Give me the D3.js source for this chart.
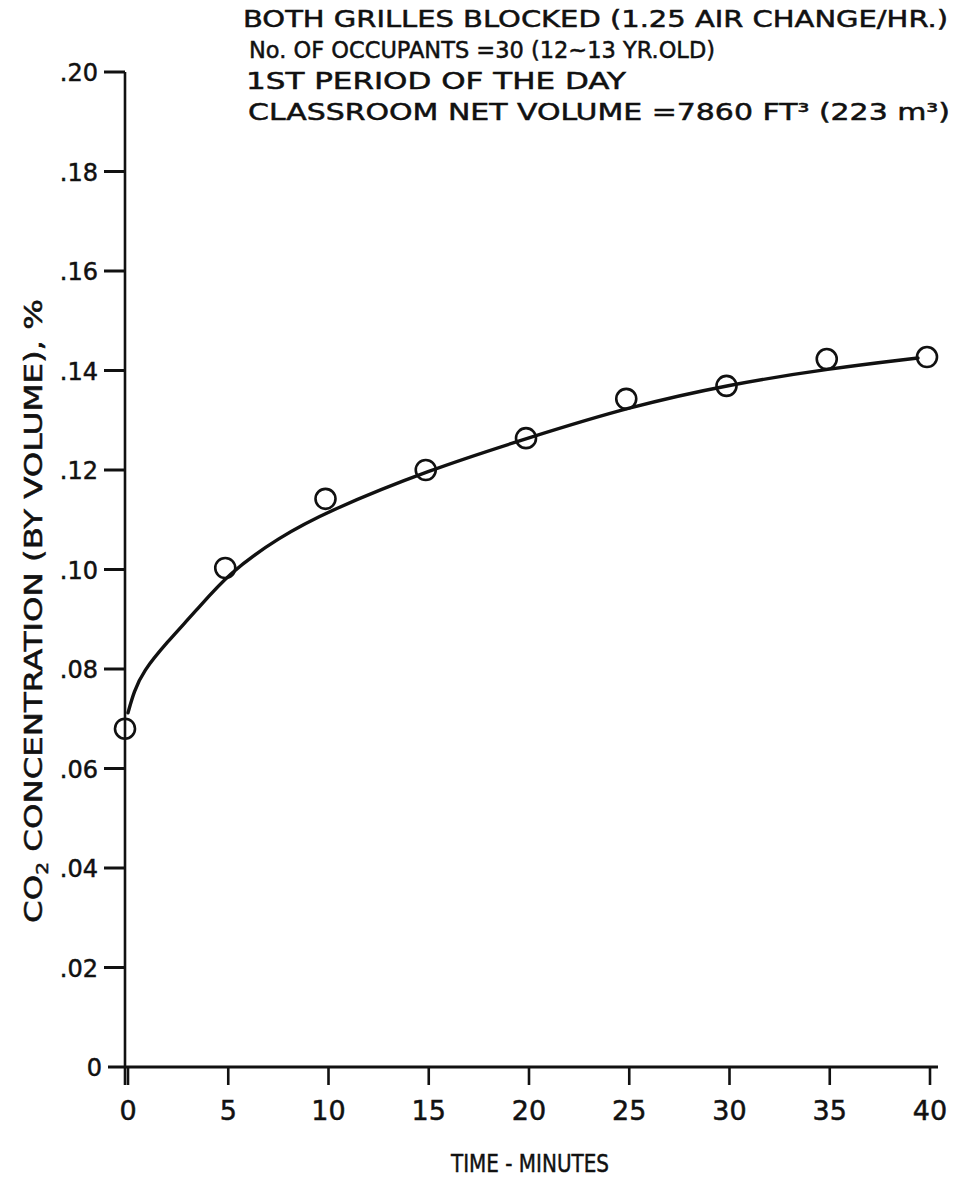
<!DOCTYPE html>
<html>
<head>
<meta charset="utf-8">
<script src="https://cdn.jsdelivr.net/npm/d3@7/dist/d3.min.js"></script>
<style>
  html, body { margin: 0; padding: 0; background: #fff; }
  svg { display: block; }
  text { font-family: "DejaVu Sans", "Liberation Sans", sans-serif; fill: #111; stroke: #111; stroke-width: 0.5; }
</style>
</head>
<body>
<script>
// Measured CO2 readings (time in minutes, concentration in % by volume)
const times = [0, 5, 10, 15, 20, 25, 30, 35, 40];
const co2 = [0.068, 0.1003, 0.1142, 0.120, 0.1264, 0.1343, 0.1369, 0.1423, 0.1427];

// Smoothed fitted curve through the readings
const curveTimes = [0, 0.3, 0.75, 1.9, 3.4, 5, 7.5, 10, 15, 20, 25, 30, 35, 39.4];
const curveCo2 = [0.0712, 0.0755, 0.0795, 0.0852, 0.0917, 0.0992, 0.1064, 0.1118, 0.1200, 0.1265, 0.1327, 0.1372, 0.1404, 0.1425];

// Axis ticks
const xTicks = [0, 5, 10, 15, 20, 25, 30, 35, 40];
const yTicks = [0, 0.02, 0.04, 0.06, 0.08, 0.10, 0.12, 0.14, 0.16, 0.18, 0.20];
const yTickLabels = ["0", ".02", ".04", ".06", ".08", ".10", ".12", ".14", ".16", ".18", ".20"];

// Notes printed above the curve
const noteLines = [
  "BOTH GRILLES BLOCKED (1.25 AIR CHANGE/HR.)",
  "No. OF OCCUPANTS =30  (12~13 YR.OLD)",
  "1ST PERIOD OF THE DAY",
  "CLASSROOM NET VOLUME =7860 FT³ (223 m³)"
];

const W = 960, H = 1177;
const svg = d3.select("body").append("svg").attr("width", W).attr("height", H);

const x = d3.scaleLinear().domain([0, 40]).range([128, 930]);
const y = d3.scaleLinear().domain([0, 0.20]).range([1067, 72]);

// Y axis (the zero tick is formed by the x axis running past the origin)
const yAxis = svg.append("g").attr("transform", `translate(${x(0) - 3},0)`);
yAxis.append("line")
  .attr("x1", 0).attr("x2", 0)
  .attr("y1", y(0.20)).attr("y2", y(0) + 18)
  .attr("stroke", "#111").attr("stroke-width", 2.6);
yAxis.selectAll("line.tick").data(yTicks.filter(d => d !== 0)).join("line")
  .attr("class", "tick")
  .attr("x1", -21).attr("x2", 0)
  .attr("y1", d => y(d)).attr("y2", d => y(d))
  .attr("stroke", "#111").attr("stroke-width", 3);
yAxis.selectAll("text").data(yTicks).join("text")
  .attr("x", d => d === 0 ? -23 : -27)
  .attr("y", d => y(d) + 9)
  .attr("text-anchor", "end")
  .attr("font-size", 24)
  .text((d, i) => yTickLabels[i]);

// X axis
const xAxis = svg.append("g").attr("transform", `translate(0,${y(0)})`);
xAxis.append("line")
  .attr("x1", x(0) - 20).attr("x2", x(40) + 8)
  .attr("y1", 0).attr("y2", 0)
  .attr("stroke", "#111").attr("stroke-width", 3.2);
xAxis.selectAll("line.tick").data(xTicks).join("line")
  .attr("class", "tick")
  .attr("x1", d => x(d)).attr("x2", d => x(d))
  .attr("y1", 0).attr("y2", 18)
  .attr("stroke", "#111").attr("stroke-width", 2.6);
xAxis.selectAll("text").data(xTicks).join("text")
  .attr("x", d => x(d))
  .attr("y", 53)
  .attr("text-anchor", "middle")
  .attr("font-size", 27)
  .text(d => d);

// Axis titles
svg.append("text")
  .attr("x", 530).attr("y", 1172)
  .attr("text-anchor", "middle")
  .attr("font-size", 25)
  .attr("textLength", 158).attr("lengthAdjust", "spacingAndGlyphs")
  .text("TIME - MINUTES");

const yTitle = svg.append("text")
  .attr("transform", "translate(42,611) rotate(-90)")
  .attr("text-anchor", "middle")
  .attr("font-size", 24)
  .attr("textLength", 624).attr("lengthAdjust", "spacingAndGlyphs");
yTitle.append("tspan").text("CO");
yTitle.append("tspan").attr("font-size", 15).attr("dy", 6).text("2");
yTitle.append("tspan").attr("dy", -6).text(" CONCENTRATION (BY VOLUME), %");

// Notes
const noteX = [243, 249, 246, 248];
const noteY = [27, 58, 89, 120];
const noteLen = [705, 466, 380, 702];
svg.selectAll("text.note").data(noteLines).join("text")
  .attr("class", "note")
  .attr("x", (d, i) => noteX[i])
  .attr("y", (d, i) => noteY[i])
  .attr("font-size", 23)
  .attr("textLength", (d, i) => noteLen[i])
  .attr("lengthAdjust", "spacingAndGlyphs")
  .text(d => d);

// Fitted curve
const curvePts = curveTimes.map((t, i) => [t, curveCo2[i]]);
svg.append("path")
  .datum(curvePts)
  .attr("fill", "none")
  .attr("stroke", "#111")
  .attr("stroke-width", 3.4)
  .attr("stroke-linecap", "round")
  .attr("d", d3.line().x(d => x(d[0])).y(d => y(d[1])).curve(d3.curveBasis));

// Measured points
svg.selectAll("circle.pt").data(times).join("circle")
  .attr("class", "pt")
  .attr("cx", d => x(d) - 3)
  .attr("cy", (d, i) => y(co2[i]))
  .attr("r", 10)
  .attr("fill", "none")
  .attr("stroke", "#111")
  .attr("stroke-width", 2.6);
</script>
</body>
</html>
